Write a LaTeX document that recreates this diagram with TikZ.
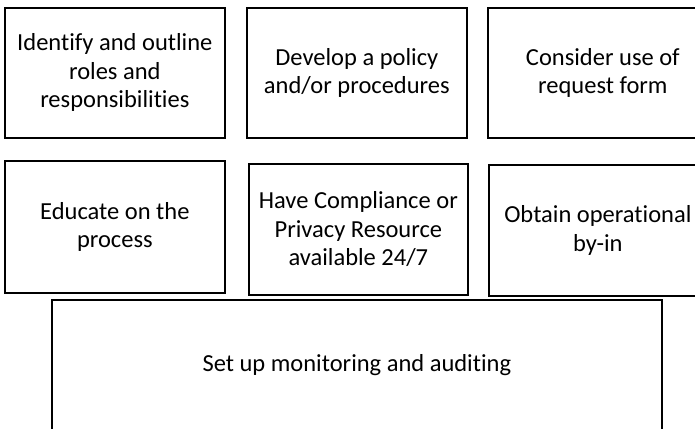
\documentclass[tikz,border=0pt]{standalone}
\usepackage{fontspec}
\setmainfont{Carlito}[Ligatures=NoCommon]
\begin{document}
\begin{tikzpicture}[x=1pt,y=-1pt,
  box/.style={draw=black, line width=1.7pt, anchor=north west, align=center, inner sep=0pt,
    font=\fontsize{24.5}{28.5}\selectfont}]
\useasboundingbox (0,0) rectangle (695,428);
\node[box, minimum width=220pt, minimum height=130pt] (b1) at (4,7)
  {Identify and outline\\roles and\\responsibilities};
\node[box, minimum width=220pt, minimum height=130pt] (b2) at (246,7)
  {Develop a policy\\and/or procedures};
\node[box, minimum width=230pt, minimum height=130pt] (b3) at (487,7)
  {Consider use of\\request form};
\node[box, minimum width=220pt, minimum height=132pt] (b4) at (4,160)
  {Educate on the\\process};
\node[box, minimum width=219pt, minimum height=131pt] (b5) at (248,163)
  {Have Compliance or\\Privacy Resource\\available 24/7};
\node[box, minimum width=218pt, minimum height=131pt] (b6) at (488,164)
  {Obtain operational\\by-in};
\node[box, minimum width=610pt, minimum height=131pt] (b7) at (51,299)
  {Set up monitoring and auditing};
\end{tikzpicture}
\end{document}
